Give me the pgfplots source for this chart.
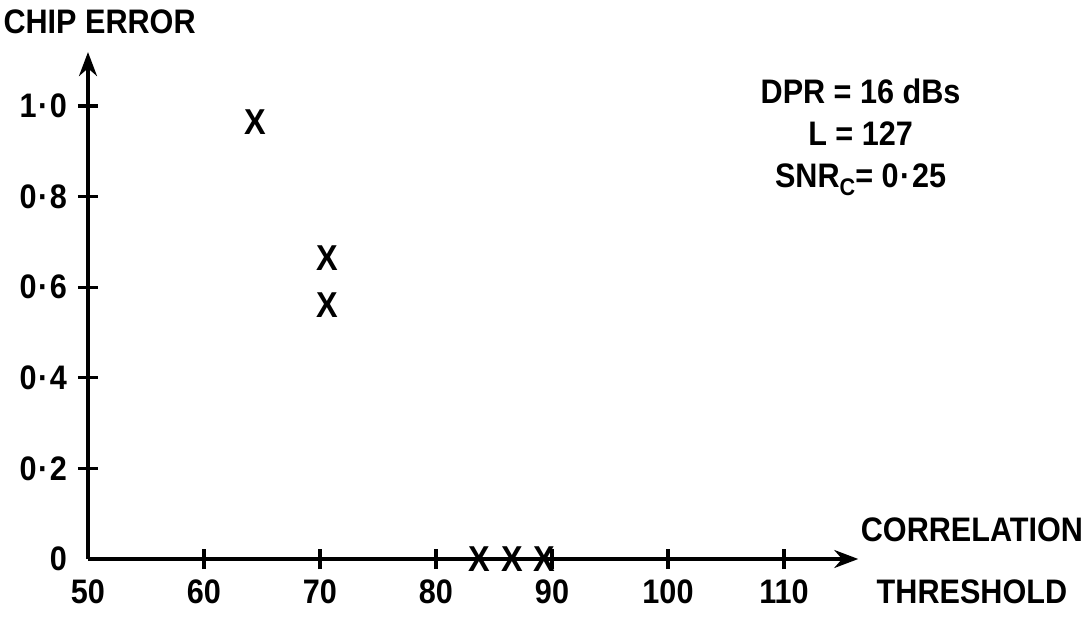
\documentclass[border=0pt]{standalone}
\usepackage{fontspec}
\setmainfont{Liberation Sans}[FakeStretch=0.9]
\usepackage{pgfplots}
\pgfplotsset{compat=1.18}
\usetikzlibrary{arrows.meta}
\newcommand{\md}{\kern0.8pt·\kern0.8pt}
\begin{document}
\begin{tikzpicture}
\useasboundingbox (-44pt,-28.5pt) rectangle (499pt,279.5pt);
\begin{axis}[
  at={(0,0)}, anchor=south west,
  x=5.8pt, y=226.5pt,
  xmin=50, xmax=116.4, ymin=0, ymax=1.119,
  axis lines=left,
  axis line style={line width=1.7pt, -{Stealth[length=12pt,width=9pt]}},
  xtick={60,70,80,90,100,110},
  xticklabels={60,70,80,90,100,110},
  ytick={0.2,0.4,0.6,0.8,1.0},
  yticklabels={0\md2,0\md4,0\md6,0\md8,1\md0},
  extra x ticks={50}, extra x tick labels={50},
  extra x tick style={tick style={draw=none}},
  extra y ticks={0}, extra y tick labels={0},
  extra y tick style={tick style={draw=none}},
  tick align=center, major tick length=10pt,
  tick style={line width=1.6pt, black},
  ticklabel style={font=\fontsize{17}{18}\selectfont\bfseries},
  xticklabel style={yshift=-2pt},
  yticklabel style={xshift=-2pt},
  clip=false,
]
\addplot[only marks, mark=text,
  text mark={\fontsize{18}{18}\selectfont\bfseries X}]
  coordinates {(64.4,0.965) (70.6,0.665) (70.6,0.561) (83.7,0) (86.6,0) (89.3,0)};
\node[align=center, font=\fontsize{17}{21}\selectfont\bfseries] at (axis cs:116.6,0.932)
  {DPR = 16 dBs\\L = 127\\SNR\raisebox{-4pt}{\fontsize{12}{12}\selectfont\bfseries C}= 0\md25};
\node[font=\fontsize{17}{18}\selectfont\bfseries] at (axis cs:126.2,0.064) {CORRELATION};
\node[font=\fontsize{17}{18}\selectfont\bfseries] at (axis cs:126.2,-0.073) {THRESHOLD};
\node[font=\fontsize{17}{18}\selectfont\bfseries] at (axis cs:51.0,1.185) {CHIP ERROR};
\end{axis}
\end{tikzpicture}
\end{document}
